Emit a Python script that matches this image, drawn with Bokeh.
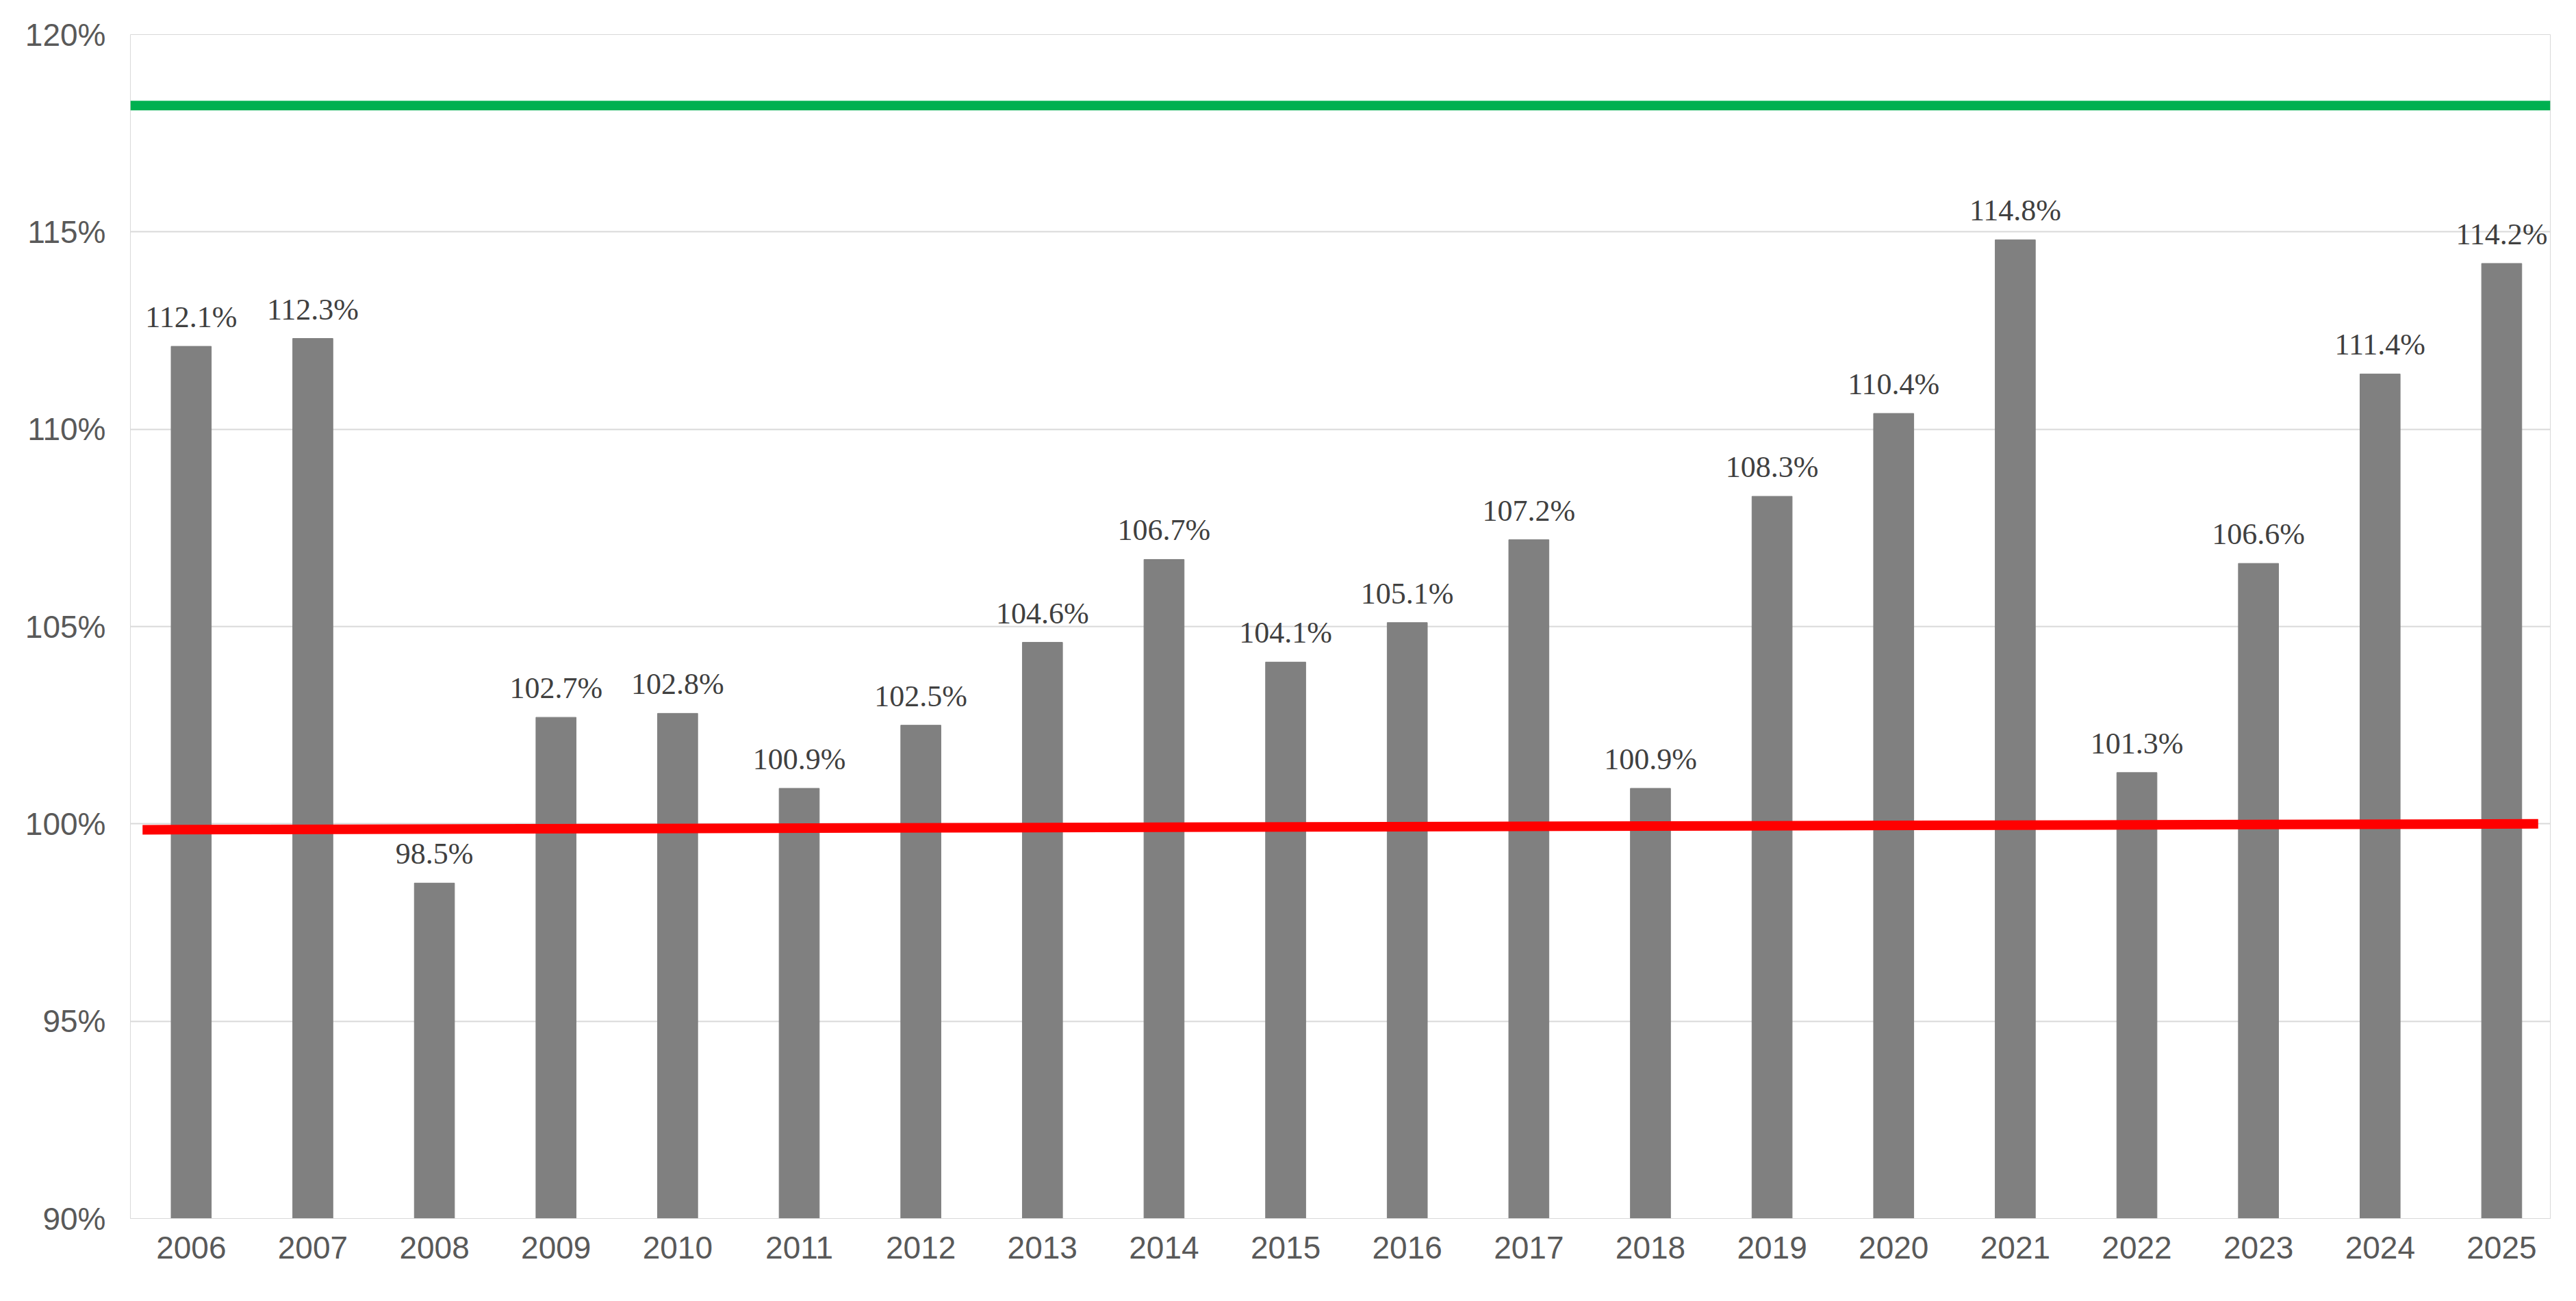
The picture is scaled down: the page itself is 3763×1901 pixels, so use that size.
from bokeh.plotting import figure
from bokeh.models import ColumnDataSource, Range1d, FixedTicker, LabelSet, NumeralTickFormatter
from bokeh.embed import file_html
from bokeh.resources import INLINE

years = [str(y) for y in range(2006, 2026)]
values = [112.1, 112.3, 98.5, 102.7, 102.8, 100.9, 102.5, 104.6, 106.7, 104.1,
          105.1, 107.2, 100.9, 108.3, 110.4, 114.8, 101.3, 106.6, 111.4, 114.2]
green_level = [118.2, 118.2]
red_trend = [99.85, 100.0]

xs = list(range(len(years)))
src = ColumnDataSource(dict(x=xs, top=values, lab=[f"{v:.1f}%" for v in values]))

p = figure(width=3745, height=1880, output_backend="svg", toolbar_location=None,
           x_range=Range1d(-0.5, 19.4), y_range=Range1d(90, 120))
p.min_border_left = 190
p.min_border_right = 20
p.min_border_top = 50
p.min_border_bottom = 100
p.outline_line_color = "#d9d9d9"
p.border_fill_color = "white"

p.vbar(x="x", top="top", bottom=90, width=0.33, color="#808080", source=src)
p.line([-0.5, 19.4], green_level, line_color="#00b050", line_width=14)
p.line([-0.4, 19.3], red_trend, line_color="#ff0000", line_width=14)

labels = LabelSet(x="x", y="top", text="lab", source=src, text_align="center",
                  y_offset=18, text_font_size="44px", text_color="#404040",
                  text_font="Liberation Sans")
p.add_layout(labels)

p.yaxis.ticker = FixedTicker(ticks=[90, 95, 100, 105, 110, 115, 120])
p.yaxis.major_label_overrides = {t: f"{t}%" for t in [90, 95, 100, 105, 110, 115, 120]}
p.xaxis.ticker = FixedTicker(ticks=xs)
p.xaxis.major_label_overrides = {i: y for i, y in enumerate(years)}
for ax in (p.xaxis, p.yaxis):
    ax.major_label_text_font_size = "46px"
    ax.major_label_text_color = "#595959"
    ax.major_label_text_font = "Liberation Sans"
    ax.axis_line_color = None
    ax.major_tick_line_color = None
    ax.minor_tick_line_color = None
p.xaxis.axis_line_color = "#d9d9d9"
p.xaxis.major_label_standoff = 20
p.yaxis.major_label_standoff = 30
p.xgrid.grid_line_color = None
p.ygrid.grid_line_color = "#d9d9d9"
p.ygrid.grid_line_width = 2

open("out.html", "w").write(file_html(p, INLINE))
